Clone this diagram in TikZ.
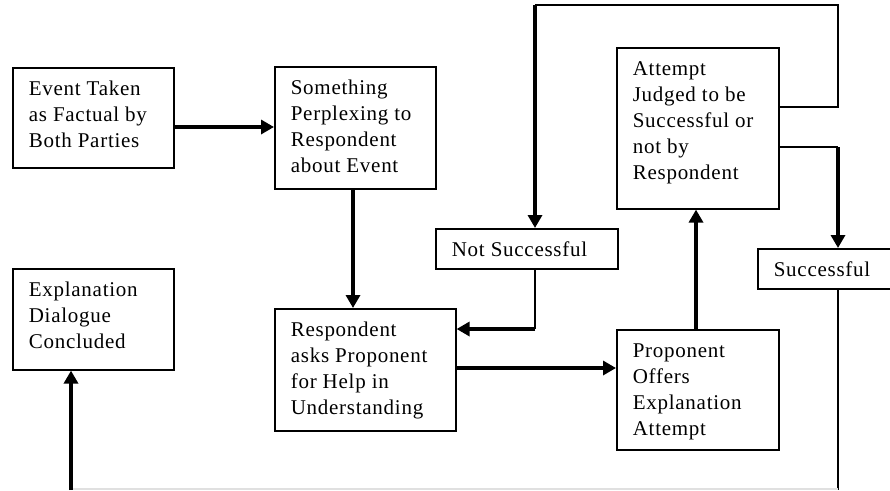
\documentclass[tikz,border=0pt]{standalone}
\usepackage{fontspec}
\setmainfont{Liberation Serif}[LetterSpace=3.5]
\usetikzlibrary{arrows.meta}
\newcommand{\bxt}[3]{\parbox[c][#2][t]{#1}{\parindent=0pt\leftskip=16pt\rightskip=0pt plus 1fil\fontsize{21}{26}\selectfont\rule{0pt}{28pt}#3\par}}
\tikzset{
  box/.style={draw, rectangle, line width=1.6pt, inner sep=0pt, anchor=north west},
  thinline/.style={line width=1.7pt},
  arr/.style={line width=3.6pt, -{Triangle[length=13pt,width=14pt]}},
  faint/.style={line width=1.2pt, black!12}
}
\begin{document}
\begin{tikzpicture}[x=1pt,y=-1pt]
\useasboundingbox (0,0) rectangle (890,490);
\fill[white] (0,0) rectangle (890,490);
\clip (0,0) rectangle (890,490);

\node[box] (ev)   at (12,67)   {\bxt{161pt}{100pt}{Event Taken\\as Factual by\\Both Parties}};
\node[box] (per)  at (274,66)  {\bxt{161pt}{122pt}{Something\\Perplexing to\\Respondent\\about Event}};
\node[box] (resp) at (274,308) {\bxt{181pt}{122pt}{Respondent\\asks Proponent\\for Help in\\Understanding}};
\node[box] (expl) at (12,268)  {\bxt{161pt}{101pt}{Explanation\\Dialogue\\Concluded}};
\node[box] (ns)   at (435,228) {\bxt{182pt}{40pt}{Not Successful}};
\node[box] (att)  at (616,47)  {\bxt{162pt}{161pt}{Attempt\\Judged to be\\Successful or\\not by\\Respondent}};
\node[box] (prop) at (616,329) {\bxt{162pt}{120pt}{Proponent\\Offers\\Explanation\\Attempt}};
\node[box] (succ) at (757,248) {\bxt{160pt}{40pt}{Successful}};

\coordinate (tr)  at (838,5);
\coordinate (tl)  at (535,5);
\coordinate (r1)  at (838,107);
\coordinate (r2)  at (838,147);
\coordinate (nsb) at (535,329);
\coordinate (br)  at (838,489);
\coordinate (bl)  at (71,489);
\coordinate (bs)  at (71,490);

% Event -> Something
\draw[arr] (ev.east |- 0,127) -- (per.west |- 0,127);
% Something -> Respondent asks
\draw[arr] (per.south -| 353,0) -- (resp.north -| 353,0);
% Respondent asks -> Proponent offers
\draw[arr] (resp.east |- 0,368) -- (prop.west |- 0,368);
% Proponent -> Attempt judged
\draw[arr] (prop.north -| 696,0) -- (att.south -| 696,0);
% Attempt -> Not Successful (top loop)
\draw[thinline] (att.east |- r1) -- (r1) -- (tr) -- (tl);
\draw[arr] (tl) -- (ns.north -| tl);
% Attempt -> Successful
\draw[thinline] (att.east |- r2) -- (r2);
\draw[arr] (r2) -- (succ.north -| r2);
% Not Successful -> Respondent asks
\draw[thinline] (ns.south -| nsb) -- (nsb);
\draw[arr] (nsb) -- (resp.east |- nsb);
% Successful -> Explanation Dialogue Concluded
\draw[thinline] (succ.south -| br) -- (838,490);
\draw[faint] (br) -- (bl);
\draw[arr] (bs) -- (expl.south -| bs);
\end{tikzpicture}
\end{document}
